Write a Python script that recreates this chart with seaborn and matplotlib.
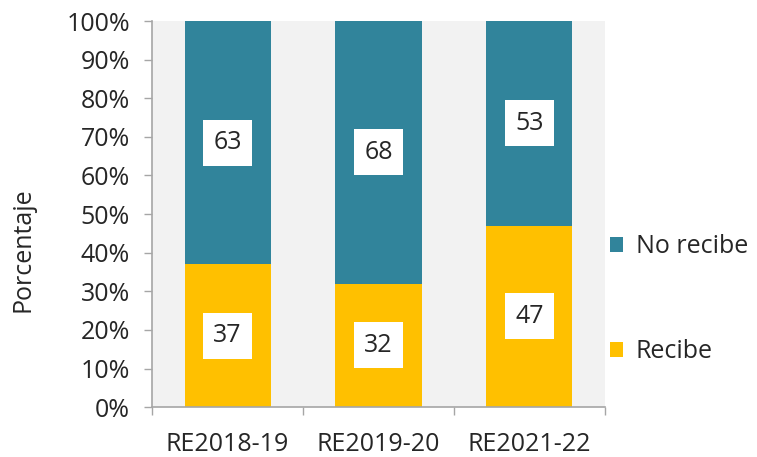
import numpy as np
import pandas as pd
import matplotlib
matplotlib.use('Agg')
import matplotlib.pyplot as plt
import seaborn as sns

# Data
periods = ['RE2018-19', 'RE2019-20', 'RE2021-22']
recibe = [37, 32, 47]
no_recibe = [63, 68, 53]

teal = '#31849B'
yellow = '#FFC000'
grey = '#A6A6A6'
txt = '#262626'

sns.set_theme(style='white')
plt.rcParams['font.family'] = ['Open Sans', 'DejaVu Sans']

df = pd.DataFrame({'periodo': periods, 'recibe': recibe, 'no_recibe': no_recibe})
df['total'] = df['recibe'] + df['no_recibe']

fig = plt.figure(figsize=(7.57, 4.57), dpi=100)
ax = fig.add_axes([0.201, 0.109, 0.598, 0.845])
ax.set_facecolor('#F2F2F2')

# stacked bars: full stack in teal, bottom part in yellow on top of it
sns.barplot(data=df, x='periodo', y='total', color=teal, width=0.57,
            saturation=1, linewidth=0, ax=ax, label='No recibe')
sns.barplot(data=df, x='periodo', y='recibe', color=yellow, width=0.57,
            saturation=1, linewidth=0, ax=ax, label='Recibe')

# value labels in white boxes
box = dict(boxstyle='square,pad=0.42', facecolor='white', edgecolor='none')
for i, (r, n) in enumerate(zip(recibe, no_recibe)):
    ax.text(i, r / 2, str(r), ha='center', va='center', fontsize=18,
            color=txt, bbox=box)
    ax.text(i, r + n / 2, str(n), ha='center', va='center', fontsize=18,
            color=txt, bbox=box)

ax.set_xlim(-0.5, 2.5)
ax.set_ylim(0, 100)
ax.set_yticks(np.arange(0, 101, 10))
ax.set_yticklabels([f'{v}%' for v in range(0, 101, 10)])
ax.set_xlabel('')
ax.set_ylabel('Porcentaje', fontsize=18, color=txt)
ax.yaxis.set_label_coords(-0.258, 0.407)

ax.tick_params(axis='y', which='major', left=True, length=6, width=1,
               color=grey, labelsize=18, labelcolor=txt, pad=10)
ax.tick_params(axis='x', which='major', bottom=False, labelsize=18,
               labelcolor=txt, pad=12)
ax.set_xticks([-0.5, 0.5, 1.5, 2.5], minor=True)
ax.tick_params(axis='x', which='minor', bottom=True, length=6, width=1, color=grey)

for side in ['top', 'right']:
    ax.spines[side].set_visible(False)
for side in ['left', 'bottom']:
    ax.spines[side].set_color(grey)
    ax.spines[side].set_linewidth(1.2)

handles, labels = ax.get_legend_handles_labels()
leg = fig.legend(handles, labels, loc='center left', bbox_to_anchor=(0.792, 0.345),
                 frameon=False, fontsize=18, handlelength=0.55, handleheight=0.55,
                 handletextpad=0.5, labelspacing=3.2, borderaxespad=0)
for t in leg.get_texts():
    t.set_color(txt)
if ax.get_legend() is not None:
    ax.get_legend().remove()

fig.savefig('out.png', dpi=100)
